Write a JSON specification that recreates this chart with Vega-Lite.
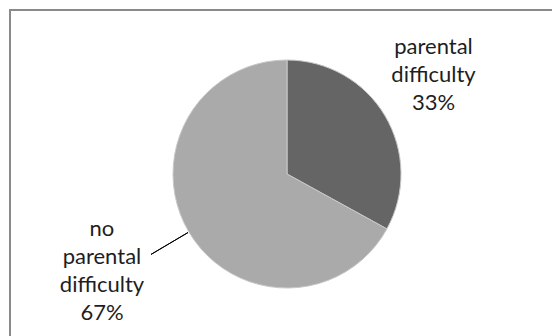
{
  "$schema": "https://vega.github.io/schema/vega-lite/v6.json",
  "width": 552,
  "height": 336,
  "autosize": {"type": "fit", "contains": "padding"},
  "padding": {"left": 10, "top": 10, "right": -12, "bottom": -2},
  "background": "white",
  "view": {"stroke": "#8a8a8a", "strokeWidth": 2},
  "data": {
    "values": [
      {"category": "parental difficulty", "share": 33},
      {"category": "no parental difficulty", "share": 67}
    ]
  },
  "transform": [
    {"stack": "share", "groupby": [], "sort": [{"field": "share", "order": "ascending"}], "as": ["s0", "s1"]},
    {"calculate": "(datum.s0 + datum.s1) / 2", "as": "mid"},
    {"calculate": "replace(datum.category, regexp(' ', 'g'), '\\n') + '\\n' + datum.share + '%'", "as": "label"}
  ],
  "layer": [
    {
      "mark": {"type": "arc", "outerRadius": 114, "stroke": "#c8c8c8", "strokeWidth": 1},
      "encoding": {
        "theta": {"field": "s0", "type": "quantitative", "scale": {"domain": [0, 100]}},
        "theta2": {"field": "s1"},
        "color": {
          "field": "category",
          "type": "nominal",
          "scale": {"domain": ["parental difficulty", "no parental difficulty"], "range": ["#656565", "#aaaaaa"]},
          "legend": null
        }
      }
    },
    {
      "transform": [{"filter": "datum.category === 'no parental difficulty'"}],
      "mark": {"type": "arc", "innerRadius": 115, "outerRadius": 158, "stroke": "black", "strokeWidth": 1, "fill": null},
      "encoding": {
        "theta": {"field": "mid", "type": "quantitative"},
        "theta2": {"field": "mid"}
      }
    },
    {
      "transform": [{"filter": "datum.category === 'parental difficulty'"}],
      "mark": {
        "type": "text", "font": "Lato", "fontSize": 22, "lineHeight": 28, "lineBreak": "\n",
        "align": "center", "baseline": "middle", "dx": -5, "dy": -37, "color": "#1e1e1e", "radius": 176
      },
      "encoding": {
        "theta": {"field": "mid", "type": "quantitative"},
        "text": {"field": "label", "type": "nominal"}
      }
    },
    {
      "transform": [{"filter": "datum.category === 'no parental difficulty'"}],
      "mark": {
        "type": "text", "font": "Lato", "fontSize": 22, "lineHeight": 28, "lineBreak": "\n",
        "align": "center", "baseline": "middle", "dx": -6, "dy": -51, "color": "#1e1e1e", "radius": 208
      },
      "encoding": {
        "theta": {"field": "mid", "type": "quantitative"},
        "text": {"field": "label", "type": "nominal"}
      }
    }
  ]
}
